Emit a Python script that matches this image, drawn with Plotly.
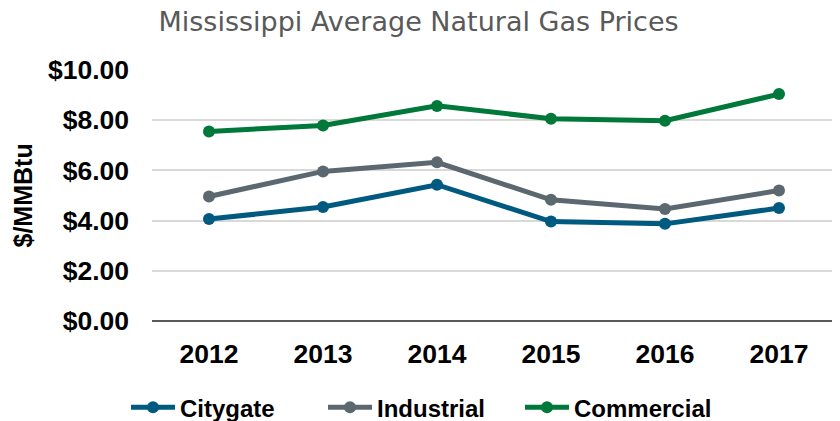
import plotly.graph_objects as go

years = ["2012", "2013", "2014", "2015", "2016", "2017"]
citygate = [4.06, 4.54, 5.43, 3.96, 3.87, 4.50]
industrial = [4.96, 5.96, 6.32, 4.83, 4.46, 5.20]
commercial = [7.55, 7.79, 8.57, 8.06, 7.98, 9.04]
y_title = "$/MMBtu"

series = [
    ("Citygate", citygate, "#005A80"),
    ("Industrial", industrial, "#5C6870"),
    ("Commercial", commercial, "#00783A"),
]

fig = go.Figure()
for name, vals, color in series:
    fig.add_trace(go.Scatter(
        x=years, y=vals, name=name, mode="lines+markers",
        line=dict(color=color, width=5),
        marker=dict(color=color, size=12),
    ))

fig.add_annotation(
    text=y_title, xref="paper", yref="paper", x=-0.1886, y=0.5,
    xanchor="center", yanchor="middle", textangle=-90, showarrow=False,
    font=dict(family="Liberation Sans", size=25, color="#000000", weight="bold"),
)

fig.update_layout(
    width=832, height=413,
    margin=dict(l=144, r=4, t=62, b=100, autoexpand=False),
    paper_bgcolor="white", plot_bgcolor="white",
    title=dict(text="Mississippi Average Natural Gas Prices",
               x=0.4934, xanchor="center", y=0.99, yanchor="top",
               font=dict(family="DejaVu Sans", size=27, color="#595959")),
    showlegend=True,
    legend=dict(orientation="h", xref="container", x=0.497, xanchor="center",
                y=-0.345, yanchor="middle", entrywidth=138, itemwidth=44,
                font=dict(family="Liberation Sans", size=24, color="#000000", weight="bold")),
    xaxis=dict(type="category", range=[-0.5, 5.5], showgrid=False, showline=False, ticks="",
               ticklabelstandoff=14,
               tickfont=dict(family="Liberation Sans", size=26.5, color="#000000", weight="bold")),
    yaxis=dict(range=[0, 10], dtick=2, tickformat="$.2f", showgrid=True,
               gridcolor="#D9D9D9", gridwidth=2, zeroline=True, zerolinecolor="#595959",
               zerolinewidth=2, showline=False, ticks="", ticklabelstandoff=22,
               tickfont=dict(family="Liberation Sans", size=26.5, color="#000000", weight="bold")),
)

fig.write_html("out.html")
